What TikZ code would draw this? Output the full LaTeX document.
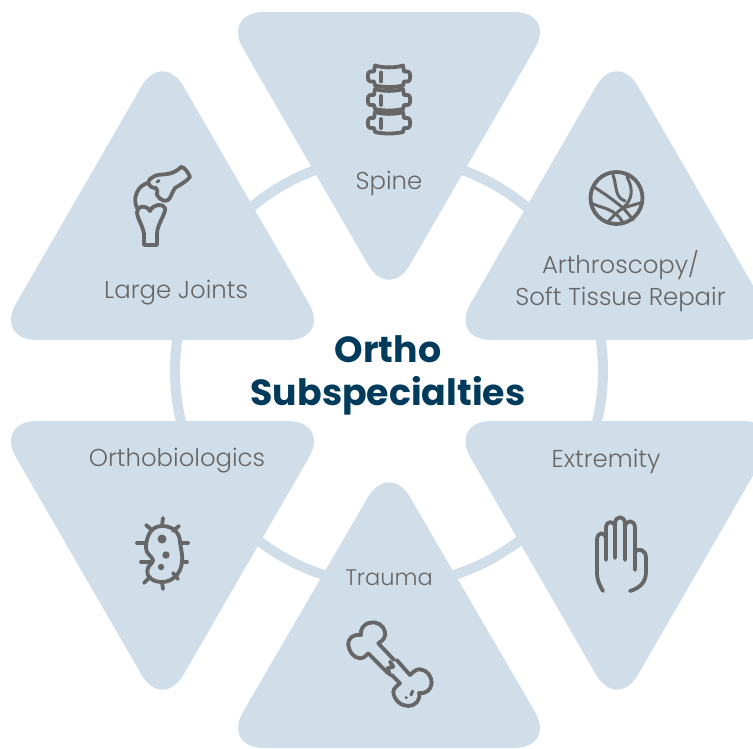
\documentclass[tikz,border=0pt]{standalone}
\usepackage{xcolor}
\usepackage{fontspec}
\setmainfont{Poppins}
\newfontfamily\lightfont{Poppins Light}
\usepackage{tikz}
\usetikzlibrary{positioning,calc}
\definecolor{paleblue}{HTML}{D0DEE9}
\definecolor{icongray}{HTML}{666666}
\definecolor{titleblue}{HTML}{003B5C}

\begin{document}
\begin{tikzpicture}[
    x=1pt, y=-1pt,
    tri/.style={fill=paleblue, rounded corners=42pt},
    icon/.style={draw=icongray, line width=3.8pt, line cap=round, line join=round},
    thin icon/.style={icon, line width=3pt},
    lbl/.style={text=icongray, font=\lightfont\fontsize{24.4}{32}\selectfont, align=center, inner sep=0pt},
]
\useasboundingbox (0,0) rectangle (753,748);
\begin{scope}
\clip (0,0) rectangle (753,748);
% Ring behind
\node[circle, draw=paleblue, line width=10pt, minimum size=428pt, inner sep=0pt] (ring) at (389,371) {};

% Triangles
\fill[tri] (222,12) -- (556,12) -- (389,301) -- cycle;
\fill[tri] (162.5,50) -- (330,340) -- (-5,340) -- cycle;
\fill[tri] (617,50) -- (784.5,340) -- (449.5,340) -- cycle;
\fill[tri] (-5,421) -- (330,421) -- (162.5,711) -- cycle;
\fill[tri] (449.5,421) -- (784.5,421) -- (617,711) -- cycle;
\fill[tri] (389,461) -- (556,748) -- (222,748) -- cycle;
\end{scope}

% Labels
\node[lbl] (spine) at (389,183) {Spine};
\node[lbl] (joints) at (176,293) {Large Joints};
\node[lbl] (arthro) at (620.5,281) {Arthroscopy/\\Soft Tissue Repair};
\node[lbl] (biologics) at (177,461) {Orthobiologics};
\node[lbl] (extremity) at (606,461) {Extremity};
\node[lbl, font=\lightfont\fontsize{22.5}{32}\selectfont] (trauma) at (389,578) {Trauma};
\node[text=titleblue, font=\fontsize{36.3}{43}\selectfont\bfseries, align=center, inner sep=0pt] (title) at (388,375) {Ortho\\Subspecialties};

% Spine icon
\foreach \y in {76.5,100,123}{
  \draw[icon, shift={(389,\y)}] (-14,-11) .. controls (-6,-8.5) and (6,-8.5) .. (14,-11) -- (15,-5) -- (19,-5) .. controls (22,-5) and (22,5) .. (19,5) -- (15,5) -- (14,9) .. controls (6,11) and (-6,11) .. (-14,9) -- (-15,5) -- (-19,5) .. controls (-22,5) and (-22,-5) .. (-19,-5) -- (-15,-5) -- cycle;
  \draw[icon] (381,\y-4) -- (381,\y+5);
}

% Joint icon
\draw[icon] (153,177) .. controls (160,172) and (170,178) .. (181,167) .. controls (184,166) and (189,174) .. (190,177) .. controls (186,182) and (178,186) .. (175,188) .. controls (172,192) and (171,198) .. (168,200) .. controls (165,202) and (160,200) .. (157,195) .. controls (158,192) and (157,189) .. (156,188) .. controls (152,188) and (149,186) .. (148,183) .. controls (148,180) and (151,178) .. (153,177) -- cycle;
\draw[icon] (148,183) .. controls (138,185) and (132,198) .. (137,208);
\draw[icon] (137,212) .. controls (137,206) and (146,204) .. (150,211) .. controls (153,204) and (163,203) .. (165,208) .. controls (166,214) and (157,224) .. (157,234) -- (157,245) -- (144,245) -- (144,234) .. controls (143,226) and (137,218) .. (137,212) -- cycle;
\draw[thin icon] (157,182) -- (159,180.5);

% Ball icon
\draw[icon] (616.5,198) circle (26pt);
\draw[thin icon] (594,187) .. controls (605,194) and (615,201) .. (623,208) .. controls (627,212) and (630,216) .. (633,220);
\draw[thin icon] (591,203) .. controls (600,208) and (616,208) .. (623,223);
\draw[thin icon] (613,175) .. controls (617,185) and (614,197) .. (625,201);
\draw[thin icon] (627,177) .. controls (634,190) and (632,200) .. (623,208) .. controls (617,212) and (611,218) .. (607,223);
\draw[thin icon] (623,208) -- (640,203);

% Cell icon
\draw[icon] (162,526) .. controls (174,526) and (180,534) .. (180,542) .. controls (181,550) and (183,556) .. (182,562) .. controls (181,574) and (172,582) .. (162,582) .. controls (152,582) and (145,576) .. (148,568) .. controls (149,564) and (153,564) .. (153,560) .. controls (152,556) and (146,554) .. (146,548) .. controls (146,538) and (150,526) .. (162,526) -- cycle;
\foreach \xa/\ya/\xb/\yb in {163/518/162/526, 146/525/152/530, 179/526/173/531, 137/543/146/543, 188/543/180/543, 141/562/150/562, 187/562/182/562, 144/583/150/577, 178/579/173/573, 163/589/162/582}{
  \draw[icon] (\xa,\ya) -- (\xb,\yb);
}
\fill[icongray] (162,539) circle (4.5pt) (166,555) circle (3.7pt) (161,567) circle (3.2pt);

% Hand icon
\draw[icon] (603,591) .. controls (599,584) and (597,580) .. (597,572) -- (597,540) .. controls (597,531) and (606,531) .. (606,540) -- (606,560);
\draw[icon] (606,540) -- (606,528) .. controls (606,520) and (615,520) .. (615,528) -- (615,558);
\draw[icon] (615,528) -- (615,524) .. controls (615,515) and (625,515) .. (625,524) -- (625,560);
\draw[icon] (625,528) .. controls (625,519) and (635,519) .. (635,528) -- (635,570);
\draw[icon] (635,552) .. controls (638,548) and (646,549) .. (646,558) -- (646,572) .. controls (646,582) and (640,588) .. (630,591);

% Bone icon
\draw[icon] (394,660) -- (378.3,643.3) .. controls (384,640) and (386,636) .. (385,632) .. controls (384,625) and (376,621) .. (370,622.7) .. controls (363,624) and (360,630) .. (361,635) .. controls (353,634) and (348,638) .. (348.3,645) .. controls (349,652) and (354,658) .. (360,658.3) .. controls (364,658) and (366,656) .. (368.3,653.3) -- (388,673.3);
\draw[icon] (390,661.7) -- (393.3,666.7) -- (387.5,668.3) -- (390,675);
\draw[icon] (396.7,660) -- (410,675) .. controls (414,671) and (417,669) .. (420,669.3) .. controls (427,670) and (431.7,676) .. (431.7,683) .. controls (431,690) and (426,694) .. (419,693) .. controls (421,700) and (415,706) .. (408.3,706) .. controls (401,706) and (394,700) .. (393.3,692) .. controls (393.5,688) and (397,686) .. (400,683.3) -- (391.7,675);
\draw[thin icon] (406,697.7) -- (406.3,697.7) (411,695) -- (412.7,691);
\end{tikzpicture}
\end{document}
